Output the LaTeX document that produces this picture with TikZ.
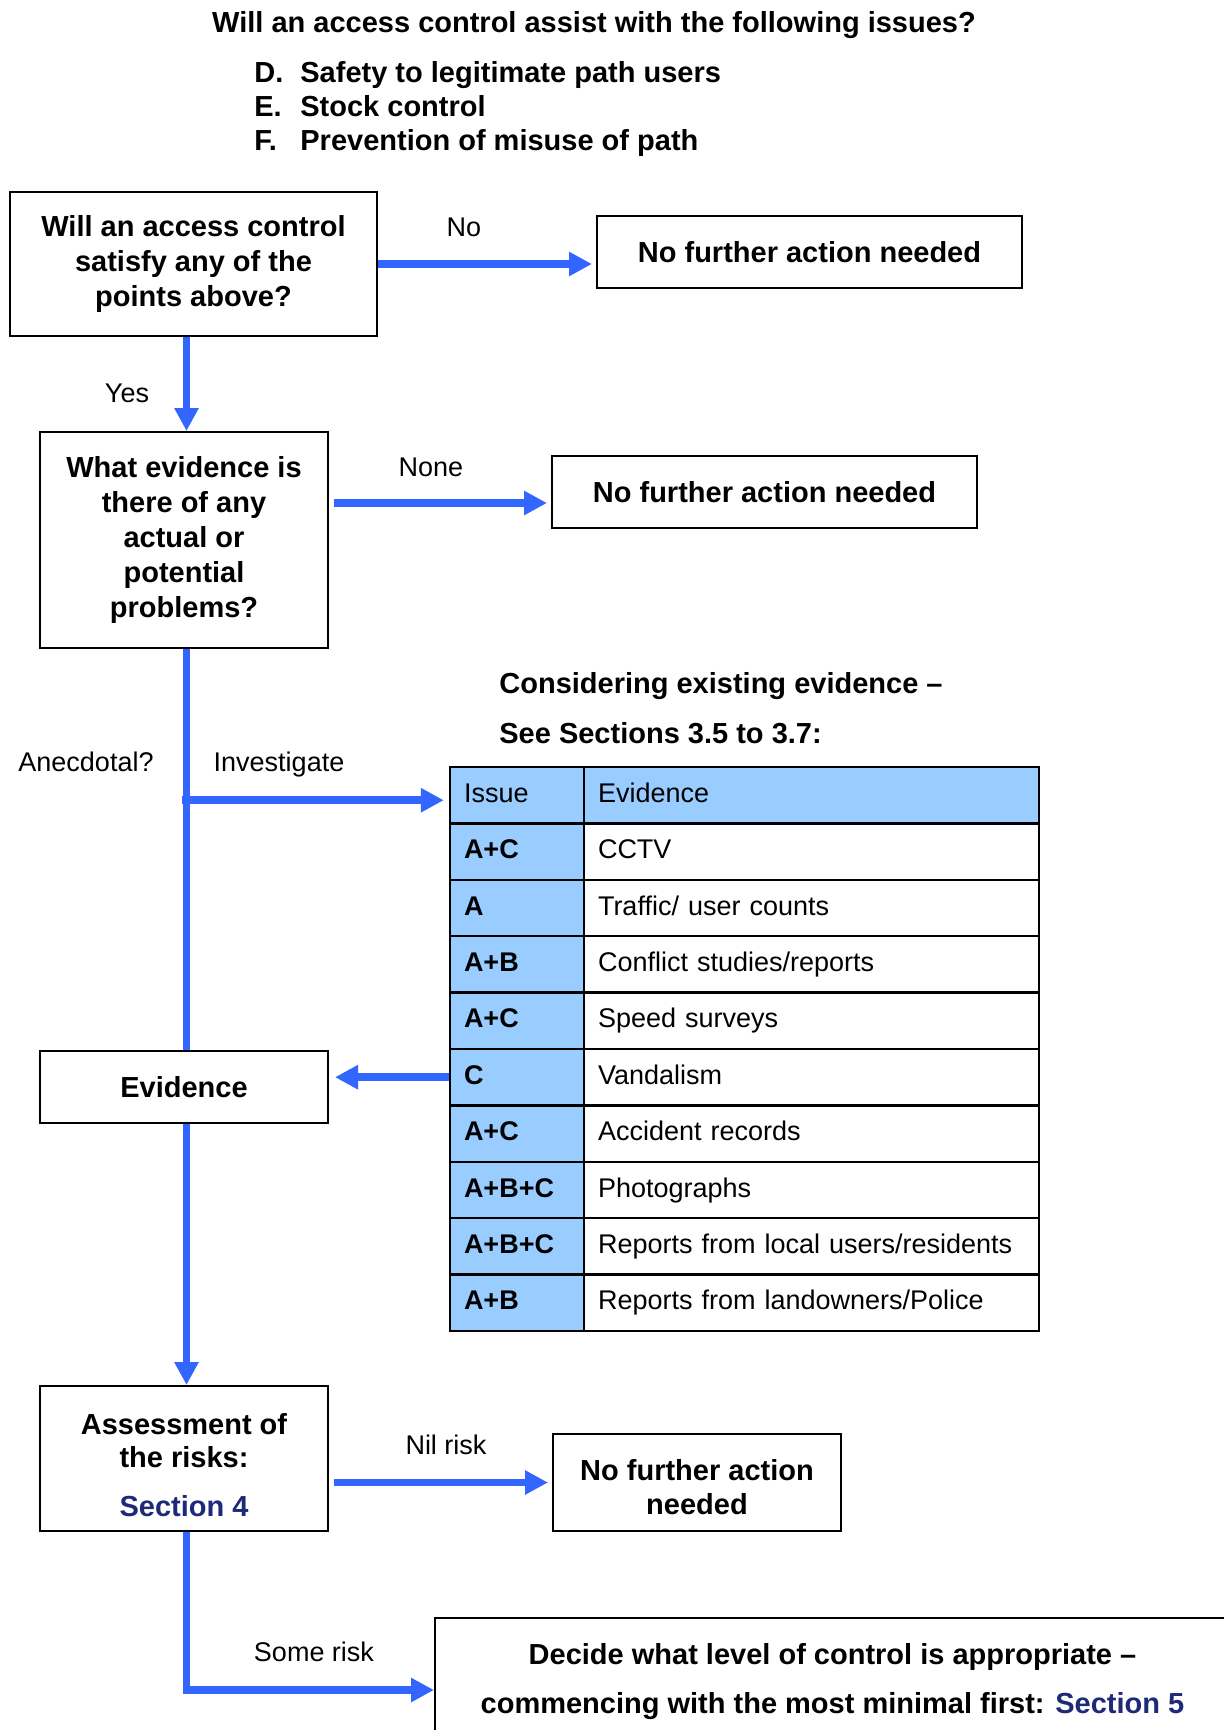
\documentclass[tikz,border=0pt]{standalone}
\usepackage{fontspec}
\setmainfont{Liberation Sans}
\usetikzlibrary{arrows.meta,positioning}
\definecolor{flowblue}{RGB}{51,102,255}
\definecolor{cellblue}{RGB}{153,204,255}
\definecolor{secblue}{RGB}{30,42,120}
\newcommand{\bigbf}{\bfseries\fontsize{14.5}{17.5}\selectfont}
\newcommand{\lblfont}{\fontsize{13.5}{16}\selectfont}

\begin{document}
\begin{tikzpicture}[x=0.5pt,y=-0.5pt,
  box/.style={draw, line width=1pt, align=center, inner sep=0pt, font=\bigbf},
  flow/.style={draw=flowblue, line width=3.8pt, -{Triangle[width=11.5pt,length=11.5pt]}},
  lbl/.style={font=\lblfont, inner sep=0pt, text height=9.7pt, text depth=0pt},
  head/.style={font=\bigbf, inner sep=0pt, text height=10.4pt, text depth=0pt},
  cell/.style={draw, line width=1.2pt, inner xsep=7pt, inner ysep=0pt, minimum height=28.2pt,
    align=left, text height=10pt, text depth=3pt, font=\lblfont}]

\useasboundingbox (0,0) rectangle (1224,1730);

% heading and issue list
\node[head] (title) at (594,22) {Will an access control assist with the following issues?};
\foreach \ltr/\txt [count=\i] in {D./Safety to legitimate path users, E./Stock control, F./Prevention of misuse of path} {
  \node[head, anchor=west] (ltr\i) at (254,38+34*\i) {\ltr};
  \node[head, anchor=west] (item\i) at (300,38+34*\i) {\txt};
}

% decision boxes
\node[box, minimum width=183.5pt, minimum height=72pt] (q1) at (193.5,264) {Will an access control\\ satisfy any of the\\ points above?};
\node[box, minimum width=212.5pt, minimum height=36pt] (nfa1) at (809.5,252) {No further action needed};
\node[box, minimum width=144pt, minimum height=108pt] (q2) at (184,540) {What evidence is\\ there of any\\ actual or\\ potential\\ problems?};
\node[box, minimum width=212.5pt, minimum height=36pt] (nfa2) at (764.5,492) {No further action needed};
\node[box, minimum width=144pt, minimum height=36pt] (evid) at (184,1087) {Evidence};
\node[box, minimum width=144pt, minimum height=72.5pt, font=\bfseries\fontsize{14.5}{16.5}\selectfont] (assess) at (184,1458.5)
  {\mbox{}\\[1pt]Assessment of\\ the risks:\\[8pt] \textcolor{secblue}{Section 4}};
\node[box, minimum width=144pt, minimum height=48.5pt, font=\bfseries\fontsize{14.5}{17}\selectfont] (nfa3) at (697,1482.5)
  {\mbox{}\\[-1.5pt]No further action\\ needed};
\node[box, minimum width=397.5pt, minimum height=63.5pt] (decide) at (832.5,1681.5)
  {Decide what level of control is appropriate –\\[7pt] commencing with the most minimal first: \textcolor{secblue}{Section 5}};

% evidence table
\node[head, anchor=west] (cons1) at (499,683) {Considering existing evidence –};
\node[head, anchor=west] (cons2) at (499,733) {See Sections 3.5 to 3.7:};
\node[cell, fill=cellblue, text width=53pt] (iss0) at (517,795.2) {Issue};
\node[cell, fill=cellblue, text width=213.5pt] (evi0) at (811.5,795.2) {Evidence};
\foreach \iss/\evi [count=\i] in {A+C/CCTV, A/{Traffic/ user counts}, A+B/{Conflict studies/reports},
    A+C/Speed surveys, C/Vandalism, A+C/Accident records, A+B+C/Photographs,
    A+B+C/{Reports from local users/residents}, A+B/{Reports from landowners/Police}} {
  \pgfmathsetmacro\ry{767+56.4*(\i+0.5)}
  \node[cell, fill=cellblue, text width=53pt, font=\lblfont\bfseries] (iss\i) at (517,\ry) {\iss};
  \node[cell, text width=213.5pt] (evi\i) at (811.5,\ry) {\evi};
}

% connectors
\coordinate (spine) at ([xshift=1.25pt]q2.north);
\draw[flow, shorten >=2pt] (q1.east) -- (q1.east -| nfa1.west);
\node[lbl] (lblno) at (464,227) {No};
\draw[flow] (spine |- q1.south) -- (spine);
\node[lbl] (lblyes) at (127,393) {Yes};
\coordinate (nonestart) at ([yshift=18.5pt]q2.east);
\draw[flow, shorten <=2.5pt, shorten >=2pt] (nonestart) -- (nonestart -| nfa2.west);
\node[lbl] (lblnone) at (431,467) {None};
\draw[draw=flowblue, line width=3.8pt] (spine |- q2.south) -- (spine |- evid.north);
\coordinate (inv) at ([yshift=-2.5pt]iss0.west);
\draw[flow, shorten <=-2.5pt, shorten >=2.5pt] (inv -| spine) -- (inv);
\node[lbl] (lblanec) at (86,762) {Anecdotal?};
\node[lbl] (lblinv) at (279,762) {Investigate};
\draw[flow, shorten >=3pt] (iss5.west) -- (iss5.west -| evid.east);
\draw[flow] (spine |- evid.south) -- (spine |- assess.north);
\draw[flow, shorten <=2.5pt, shorten >=2pt] (nfa3.west -| assess.east) -- (nfa3.west);
\node[lbl] (lblnil) at (446,1445) {Nil risk};
\coordinate (somerisk) at ([yshift=-4.25pt]decide.west);
\draw[flow] (spine |- assess.south) |- (somerisk);
\node[lbl] (lblsome) at (314,1652) {Some risk};
\end{tikzpicture}
\end{document}
